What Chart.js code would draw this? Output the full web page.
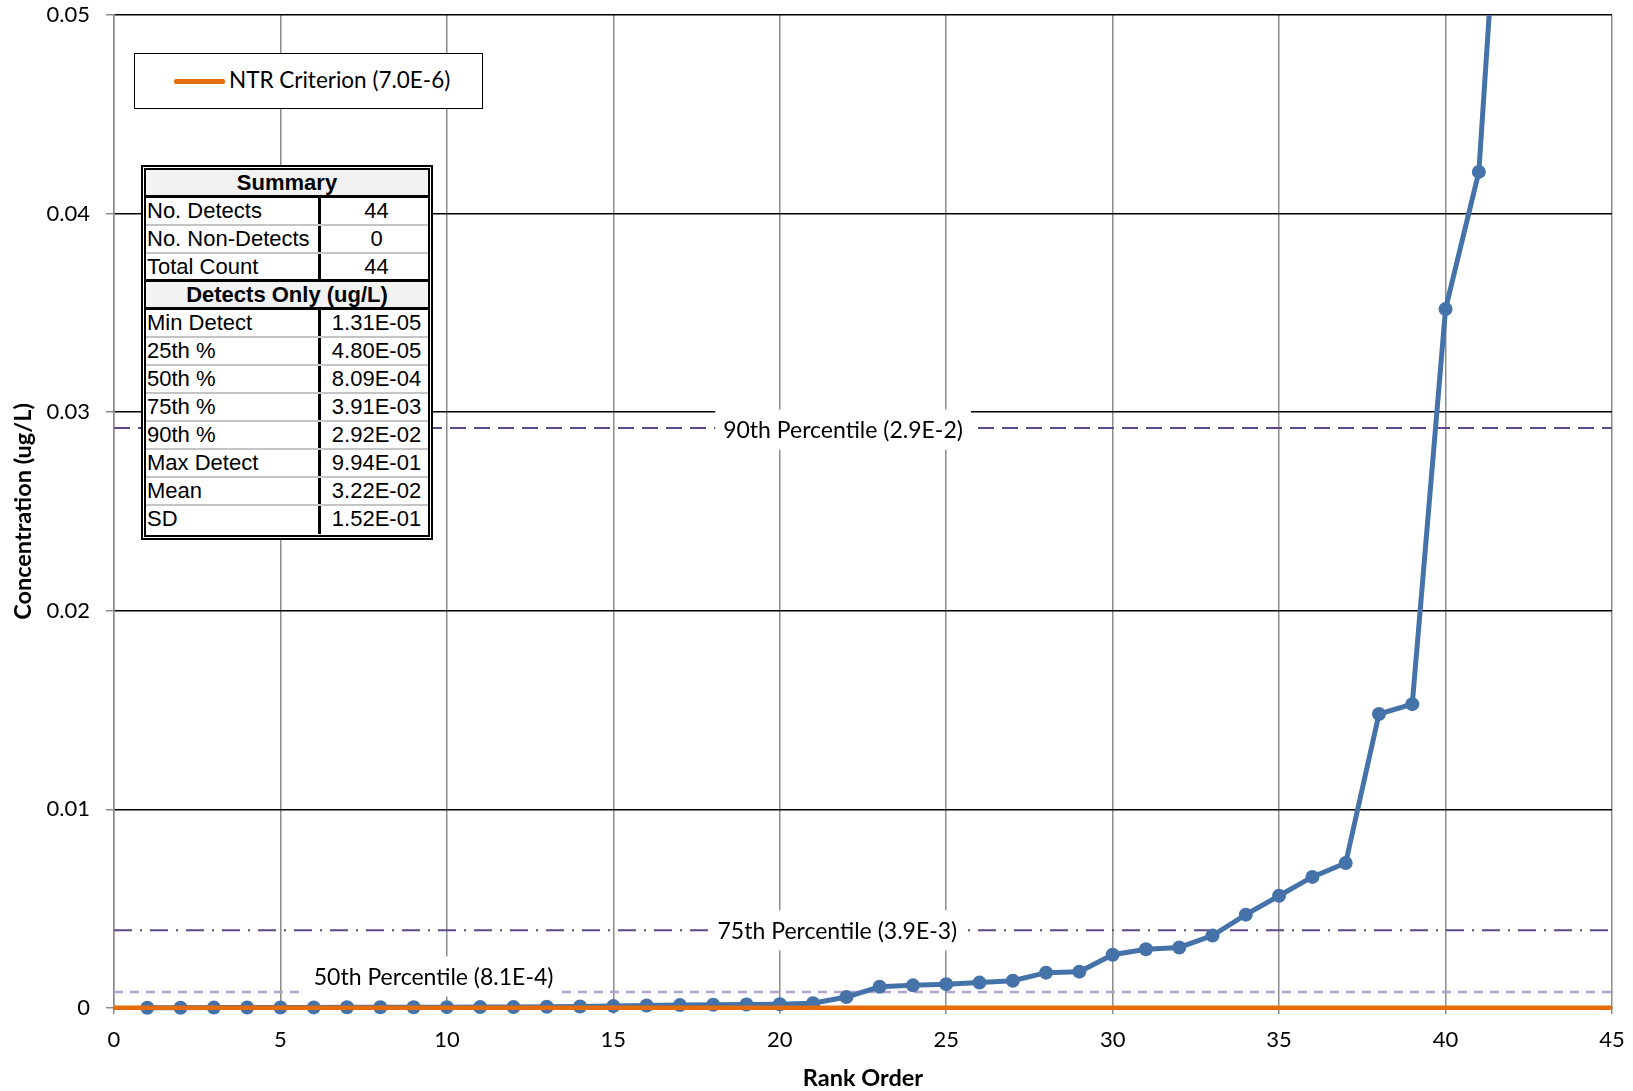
<!DOCTYPE html>
<html>
<head>
<meta charset="utf-8">
<script src="https://cdn.jsdelivr.net/npm/chart.js@4.4.1/dist/chart.umd.min.js"></script>
<style>
  html, body { margin: 0; padding: 0; background: #fff; }
  #wrap { position: relative; width: 1633px; height: 1091px; overflow: hidden; }
  #chart { position: absolute; left: 0; top: 0; }
  #legend {
    position: absolute; left: 134px; top: 53px; width: 349px; height: 56px;
    box-sizing: border-box; border: 1.5px solid #000; background: #fff;
    font-family: Lato, "Open Sans", sans-serif; font-size: 22.5px; color: #000;
  }
  #legend .swatch { position: absolute; left: 39px; top: 25px; width: 51px; height: 4.5px; border-radius: 2px; }
  #legend .text { position: absolute; left: 94px; top: 0; height: 54px; line-height: 52px; white-space: nowrap; }
  #summary {
    position: absolute; left: 141px; top: 165px; width: 292px; height: 375px;
    box-sizing: border-box; border: 5px double #000; background: #fff;
    font-family: "Liberation Sans", Arial, sans-serif; font-size: 22px; color: #000;
  }
  #summary .row { display: flex; height: 28px; box-sizing: border-box; border-bottom: 2px solid #c4c4c4; }
  #summary .row.last { border-bottom: none; }
  #summary .row.dark { border-bottom: 3px solid #000; }
  #summary .head { flex: 1; background: #f2f2f2; font-weight: bold; text-align: center; line-height: 26px; }
  #summary .lab { width: 172px; padding-left: 1px; box-sizing: border-box; line-height: 26px; white-space: nowrap; }
  #summary .val { flex: 1; border-left: 3px solid #000; text-align: center; padding-left: 4px; line-height: 26px; white-space: nowrap; }
</style>
</head>
<body>
<div id="wrap">
  <canvas id="chart" width="1633" height="1091"></canvas>
  <div id="legend"></div>
  <div id="summary"></div>
</div>
<script>
// Rank order of the 44 detected samples and their concentrations (ug/L)
const ranks = [1, 2, 3, 4, 5, 6, 7, 8, 9, 10, 11, 12, 13, 14, 15, 16, 17, 18, 19, 20, 21, 22,
               23, 24, 25, 26, 27, 28, 29, 30, 31, 32, 33, 34, 35, 36, 37, 38, 39, 40, 41, 42, 43, 44];
const concentrations = [
  1.31e-5, 1.6e-5, 1.9e-5, 2.3e-5, 2.7e-5, 3.1e-5, 3.5e-5, 3.8e-5, 4.1e-5, 4.4e-5, 4.6e-5,
  4.87e-5, 6.2e-5, 7.8e-5, 9.5e-5, 1.25e-4, 1.45e-4, 1.6e-4, 1.75e-4, 1.9e-4, 2.4e-4,
  5.5e-4, 1.07e-3, 1.14e-3, 1.2e-3, 1.28e-3, 1.37e-3, 1.78e-3, 1.83e-3, 2.68e-3, 2.96e-3,
  3.05e-3, 3.65e-3, 4.7e-3, 5.65e-3, 6.6e-3, 7.3e-3, 0.0148, 0.0153, 0.0352, 0.0421,
  0.0676, 0.199, 0.994
];

// Screening criterion
const ntrLabel = 'NTR Criterion (7.0E-6)';
const ntrValue = 7.0e-6;

// Percentile reference lines
const percentileValues = [2.92e-2, 3.91e-3, 8.09e-4];
const percentileTexts = ['90th Percentile (2.9E-2)', '75th Percentile (3.9E-3)', '50th Percentile (8.1E-4)'];

// Axis ticks
const xTickValues = [0, 5, 10, 15, 20, 25, 30, 35, 40, 45];
const xTickLabels = ['0', '5', '10', '15', '20', '25', '30', '35', '40', '45'];
const yTickValues = [0, 0.01, 0.02, 0.03, 0.04, 0.05];
const yTickLabels = ['0', '0.01', '0.02', '0.03', '0.04', '0.05'];

// Summary table
const countLabels = ['No. Detects', 'No. Non-Detects', 'Total Count'];
const countValues = ['44', '0', '44'];
const statLabels = ['Min Detect', '25th %', '50th %', '75th %', '90th %', 'Max Detect', 'Mean', 'SD'];
const statValues = ['1.31E-05', '4.80E-05', '8.09E-04', '3.91E-03', '2.92E-02', '9.94E-01', '3.22E-02', '1.52E-01'];

const xMin = 0, xMax = 45;
const points = ranks.map((r, i) => ({ x: r, y: concentrations[i] }));
const flat = v => [{ x: xMin, y: v }, { x: xMax, y: v }];

const lineStyles = [
  { color: '#5f4a87', dash: [16, 8], width: 2 },
  { color: '#5f4a87', dash: [18, 8, 2, 8], width: 2 },
  { color: '#b4a3cc', dash: [9, 7], width: 2.5 }
];

const datasets = [
  {
    label: ntrLabel, data: flat(ntrValue), borderColor: '#e46c0a', backgroundColor: '#e46c0a',
    borderWidth: 4.5, pointRadius: 0, order: 0,
    clip: { left: 0, top: 0, right: 0, bottom: 6 }
  },
  {
    label: 'Concentration', data: points, borderColor: '#4573a9', backgroundColor: '#4573a9',
    borderWidth: 5, pointRadius: 7, pointBorderWidth: 0, pointHoverRadius: 7, order: 1,
    // markers on the zero line stay whole; the steep tail is cut at the top of the plot
    clip: { left: 10, top: 0, right: 0, bottom: 10 }
  }
];
percentileValues.forEach((v, i) => {
  datasets.push({
    label: percentileTexts[i], data: flat(v), borderColor: lineStyles[i].color,
    borderWidth: lineStyles[i].width, borderDash: lineStyles[i].dash, pointRadius: 0, order: 2
  });
});

// Text boxes sitting on the percentile lines
const percentileLabels = {
  id: 'percentileLabels',
  afterDatasetsDraw(chart, args, opts) {
    const { ctx } = chart;
    const xs = chart.scales.x, ys = chart.scales.y;
    ctx.save();
    ctx.font = opts.font;
    ctx.textAlign = 'center';
    ctx.textBaseline = 'middle';
    percentileTexts.forEach((t, i) => {
      const cx = xs.getPixelForValue(opts.anchors[i]);
      const cy = ys.getPixelForValue(percentileValues[i]) + opts.offsets[i];
      const w = ctx.measureText(t).width + 2 * opts.padX;
      ctx.fillStyle = '#fff';
      ctx.fillRect(cx - w / 2, cy - opts.boxHeight / 2, w, opts.boxHeight);
      ctx.fillStyle = '#000';
      ctx.fillText(t, cx, cy + 1);
    });
    ctx.restore();
  }
};

const tickFont = { family: 'Lato', size: 22, lineHeight: 1.2 };
const titleFont = { family: 'Lato', size: 23.5, weight: 'bold', lineHeight: 1 };

// Keep the plot area fixed: the axes take exact sizes and add no overflow padding
const fitX = s => { s.height = 83; s.paddingLeft = 0; s.paddingRight = 0; };
const fitY = s => { s.width = 114; s.paddingTop = 0; s.paddingBottom = 0; };

const chart = new Chart(document.getElementById('chart'), {
  type: 'line',
  data: { datasets },
  plugins: [percentileLabels],
  options: {
    responsive: false,
    animation: false,
    events: [],
    layout: { padding: { top: 15, right: 21, left: 0, bottom: 0 } },
    plugins: {
      legend: { display: false },
      tooltip: { enabled: false },
      percentileLabels: {
        font: '23px Lato', anchors: [21.9, 21.73, 9.6], offsets: [1.5, 0, -15.5],
        padX: 8, boxHeight: 40
      }
    },
    scales: {
      x: {
        type: 'linear', min: xMin, max: xMax,
        afterFit: fitX,
        afterBuildTicks: s => { s.ticks = xTickValues.map(v => ({ value: v })); },
        ticks: {
          font: tickFont, color: '#000', padding: 13, maxRotation: 0, autoSkip: false,
          callback: v => xTickLabels[xTickValues.indexOf(v)]
        },
        grid: { color: '#8c8c8c', lineWidth: 1.5, tickLength: 6, tickColor: '#8c8c8c' },
        border: { color: '#000', width: 1.5 },
        title: { display: true, text: 'Rank Order', font: titleFont, color: '#000', padding: { top: 0, bottom: 1 } }
      },
      y: {
        type: 'linear', min: 0, max: 0.05,
        afterFit: fitY,
        afterBuildTicks: s => { s.ticks = yTickValues.map(v => ({ value: v })); },
        ticks: {
          font: tickFont, color: '#000', padding: 16,
          callback: v => yTickLabels[yTickValues.findIndex(t => Math.abs(t - v) < 1e-9)]
        },
        grid: { color: '#000', lineWidth: 1.5, tickLength: 8, tickColor: '#8c8c8c' },
        border: { color: '#8c8c8c', width: 1.5 },
        title: { display: true, text: 'Concentration (ug/L)', font: titleFont, color: '#000', padding: { top: 12, bottom: 0 } }
      }
    }
  }
});

// Legend entry for the criterion line
const ntr = chart.data.datasets[0];
document.getElementById('legend').innerHTML =
  '<div class="swatch" style="background:' + ntr.borderColor + '"></div>' +
  '<div class="text">' + ntr.label + '</div>';

// Summary statistics table
let html = '<div class="row dark"><div class="head">Summary</div></div>';
countLabels.forEach((l, i) => {
  const cls = i === countLabels.length - 1 ? 'row dark' : 'row';
  html += '<div class="' + cls + '"><div class="lab">' + l + '</div><div class="val">' + countValues[i] + '</div></div>';
});
html += '<div class="row dark"><div class="head">Detects Only (ug/L)</div></div>';
statLabels.forEach((l, i) => {
  const cls = i === statLabels.length - 1 ? 'row last' : 'row';
  html += '<div class="' + cls + '"><div class="lab">' + l + '</div><div class="val">' + statValues[i] + '</div></div>';
});
document.getElementById('summary').innerHTML = html;
</script>
</body>
</html>
